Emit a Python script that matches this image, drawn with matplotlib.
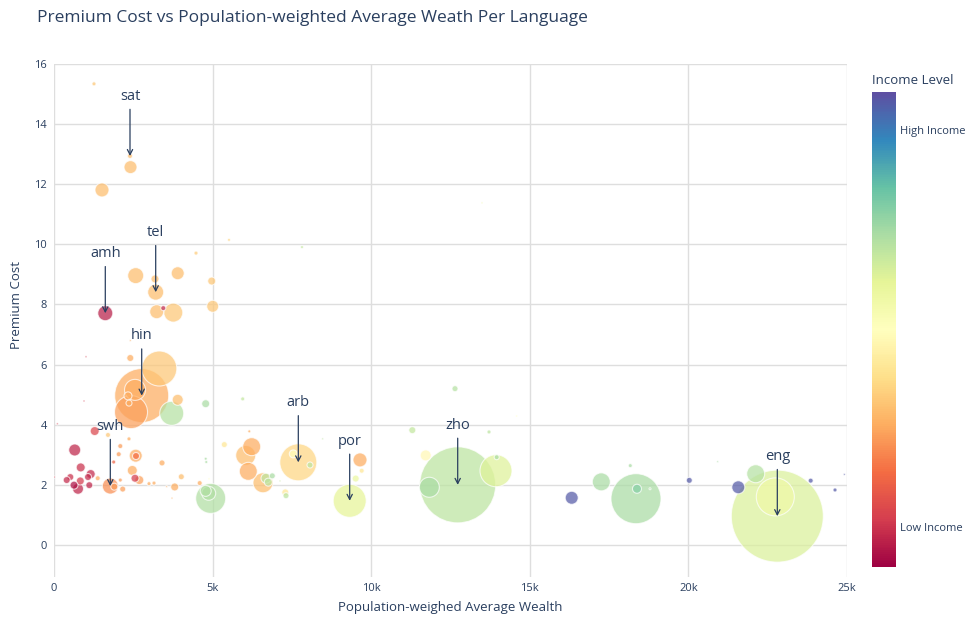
import matplotlib
matplotlib.use("Agg")
import matplotlib.pyplot as plt
import numpy as np
from matplotlib.colors import Normalize
from matplotlib.cm import ScalarMappable

plt.rcParams['font.family'] = ['Open Sans', 'DejaVu Sans']

# ---------------- data ----------------
names = [
    "", "sat", "", "", "", "", "", "", "", "",
    "", "tel", "", "", "", "", "", "amh", "", "",
    "", "", "hin", "", "", "", "", "", "", "",
    "", "", "", "", "", "", "", "", "", "",
    "", "", "", "", "", "", "", "", "", "",
    "", "", "swh", "", "", "", "", "", "", "",
    "", "", "", "", "", "", "", "", "", "",
    "", "", "", "", "", "", "", "", "", "",
    "", "", "", "", "", "", "arb", "", "", "",
    "por", "", "", "", "", "", "", "", "", "",
    "zho", "", "", "", "", "", "", "", "", "",
    "", "", "eng", "", "", "", "", "",
]

wealth = [
    1261, 2396, 2412, 1513, 4477, 5517, 7818, 13493, 2576, 3184,
    3900, 3206, 4972, 3238, 3446, 3761, 5003, 1617, 2405, 2405,
    1009, 3320, 2765, 2554, 2428, 2333, 2364, 3900, 3711, 4782,
    5949, 946, 104, 1283, 1702, 653, 2090, 2364, 2040, 2576,
    2585, 1882, 2468, 3405, 2554, 2689, 4013, 2995, 3153, 3805,
    3553, 3720, 1775, 2090, 2166, 1901, 1378, 842, 1157, 1072,
    514, 400, 829, 631, 757, 1113, 9, 4593, 4940, 4782,
    4877, 4782, 4801, 4887, 6157, 5369, 6233, 6044, 6125, 6589,
    6684, 6756, 6882, 7125, 7292, 7314, 7702, 8071, 7544, 8471,
    9322, 9647, 9700, 9511, 12642, 11296, 13714, 14587, 11718, 11832,
    12727, 13934, 13956, 16321, 17254, 18168, 18348, 18379, 20028, 20924,
    21573, 22122, 22803, 22740, 23855, 24622, 24915, 18790,
]

premium = [
    15.34, 12.94, 12.57, 11.81, 9.71, 10.15, 9.91, 11.38, 8.96, 8.85,
    9.04, 8.41, 8.78, 7.76, 7.88, 7.73, 7.94, 7.71, 6.80, 6.22,
    6.26, 5.87, 4.97, 5.16, 4.42, 4.96, 4.72, 4.83, 4.38, 4.70,
    4.86, 4.79, 4.03, 3.79, 3.66, 3.16, 3.29, 3.53, 3.02, 2.97,
    2.96, 2.76, 2.48, 2.73, 2.22, 2.16, 2.27, 2.04, 2.06, 1.93,
    1.94, 1.56, 1.96, 2.16, 1.86, 1.94, 2.22, 2.58, 2.36, 2.26,
    2.26, 2.16, 2.13, 1.99, 1.87, 1.99, 2.26, 2.06, 1.55, 1.80,
    1.72, 2.87, 2.76, 2.20, 3.78, 3.34, 3.27, 2.98, 2.45, 2.07,
    2.22, 2.09, 2.30, 2.13, 1.75, 1.64, 2.75, 2.66, 3.03, 3.53,
    1.47, 2.83, 2.47, 2.21, 5.20, 3.82, 3.76, 4.29, 2.98, 1.92,
    2.00, 2.47, 2.92, 1.57, 2.10, 2.64, 1.54, 1.87, 2.15, 2.77,
    1.92, 2.37, 0.96, 1.60, 2.14, 1.83, 2.35, 1.87,
]

speakers_m = [
    2.9, 4.5, 30.4, 35.3, 2.9, 1.6, 1.6, 0.7, 46.1, 11.5,
    30.4, 46.1, 11.5, 35.3, 4.5, 65.0, 25.9, 40.5, 0.7, 8.8,
    0.7, 220.5, 525.0, 79.4, 196.0, 11.5, 6.5, 21.8, 103.7, 11.5,
    2.9, 0.7, 0.7, 14.6, 4.5, 25.9, 4.5, 2.9, 4.5, 30.4,
    8.8, 2.9, 18.0, 6.5, 11.5, 14.6, 6.5, 2.9, 2.9, 11.5,
    0.7, 0.7, 46.1, 2.9, 6.5, 8.8, 4.5, 14.6, 14.6, 8.8,
    8.8, 8.8, 11.5, 11.5, 21.8, 8.8, 0.7, 4.5, 162.0, 21.8,
    35.3, 1.6, 1.6, 0.7, 1.6, 6.5, 58.3, 72.0, 58.3, 72.0,
    18.0, 11.5, 6.5, 0.7, 8.8, 6.5, 246.4, 6.5, 11.5, 0.7,
    196.0, 35.3, 4.5, 8.8, 6.5, 8.8, 2.9, 0.7, 21.8, 72.0,
    1040.0, 184.3, 4.5, 30.4, 58.3, 2.9, 450.0, 14.6, 6.5, 0.7,
    30.4, 58.3, 1523.0, 260.0, 4.5, 2.9, 0.7, 0.7,
]

income_index = [
    0.35, 0.33, 0.33, 0.33, 0.36, 0.38, 0.66, 0.55, 0.33, 0.33,
    0.33, 0.33, 0.35, 0.33, 0.06, 0.35, 0.35, 0.05, 0.30, 0.30,
    0.10, 0.35, 0.30, 0.30, 0.28, 0.30, 0.30, 0.33, 0.68, 0.70,
    0.66, 0.10, 0.10, 0.12, 0.35, 0.06, 0.27, 0.30, 0.27, 0.30,
    0.20, 0.18, 0.30, 0.30, 0.10, 0.28, 0.33, 0.30, 0.30, 0.30,
    0.30, 0.30, 0.25, 0.27, 0.28, 0.27, 0.30, 0.08, 0.07, 0.07,
    0.08, 0.07, 0.10, 0.03, 0.06, 0.06, 0.10, 0.30, 0.69, 0.69,
    0.69, 0.70, 0.70, 0.50, 0.30, 0.42, 0.30, 0.33, 0.30, 0.33,
    0.67, 0.67, 0.70, 0.66, 0.42, 0.67, 0.38, 0.67, 0.50, 0.67,
    0.60, 0.30, 0.42, 0.58, 0.68, 0.66, 0.67, 0.50, 0.48, 0.70,
    0.67, 0.61, 0.70, 0.98, 0.70, 0.70, 0.70, 0.75, 0.98, 0.70,
    0.98, 0.68, 0.62, 0.56, 0.98, 0.98, 0.98, 0.70,
]

colorbar_ticks = [0.084, 0.92]
colorbar_ticklabels = ["Low Income", "High Income"]
x_ticks = [0, 5000, 10000, 15000, 20000, 25000]
x_ticklabels = ["0", "5k", "10k", "15k", "20k", "25k"]
y_ticks = [0, 2, 4, 6, 8, 10, 12, 14, 16]

# ---------------- plot ----------------
TXT = '#2a3f5f'
W, H = 965, 617
fig = plt.figure(figsize=(W / 100, H / 100), dpi=100)
ax = fig.add_axes([54 / W, 40 / H, 793 / W, 513 / H])

wealth_a = np.array(wealth, float)
prem_a = np.array(premium, float)
spk_a = np.array(speakers_m, float)
inc_a = np.array(income_index, float)

cmap = plt.get_cmap('Spectral')
norm = Normalize(0, 1)
sizes = spk_a * (0.72 ** 2 / 0.18)
order = np.argsort(-spk_a, kind='stable')

ax.scatter(wealth_a[order], prem_a[order], s=sizes[order], c=inc_a[order],
           cmap=cmap, norm=norm, alpha=0.72, edgecolors='white',
           linewidths=0.8, zorder=3)

for nm, x, y in zip(names, wealth, premium):
    if nm:
        ax.annotate(nm, xy=(x, y), xytext=(0, 43), textcoords='offset points',
                    ha='center', va='center', fontsize=10.5, color=TXT, zorder=5,
                    arrowprops=dict(arrowstyle='->,head_length=0.35,head_width=0.18',
                                    color=TXT, lw=0.9, shrinkA=2, shrinkB=0,
                                    relpos=(0.5, 0.0)))

ax.set_xlim(0, 25000)
ax.set_ylim(-1.065, 16.0)
ax.set_xticks(x_ticks)
ax.set_xticklabels(x_ticklabels)
ax.set_yticks(y_ticks)
ax.grid(True, color='#dedede', lw=1, zorder=0)
ax.set_axisbelow(True)
for sp in ax.spines.values():
    sp.set_visible(False)
ax.tick_params(axis='both', length=0, labelsize=8, labelcolor=TXT)
ax.tick_params(axis='x', pad=4)
ax.tick_params(axis='y', pad=5)

fig.text(37 / W, 1 - 18 / H, "Premium Cost vs Population-weighted Average Weath Per Language",
         fontsize=12.5, color=TXT, ha='left', va='center')
fig.text(450 / W, 1 - 607 / H, "Population-weighed Average Wealth",
         fontsize=9.5, color=TXT, ha='center', va='center')
fig.text(17 / W, 1 - 305 / H, "Premium Cost", fontsize=9.5, color=TXT,
         ha='center', va='center', rotation=90)

cax = fig.add_axes([872 / W, 50 / H, 24 / W, 475 / H])
cb = fig.colorbar(ScalarMappable(norm=norm, cmap=cmap), cax=cax)
cb.outline.set_visible(False)
cb.set_ticks(colorbar_ticks)
cb.set_ticklabels(colorbar_ticklabels)
cax.tick_params(length=0, labelsize=8, labelcolor=TXT, pad=3)
fig.text(872 / W, 1 - 80 / H, "Income Level", fontsize=9.5, color=TXT,
         ha='left', va='center')

fig.savefig("out.png", dpi=100)
